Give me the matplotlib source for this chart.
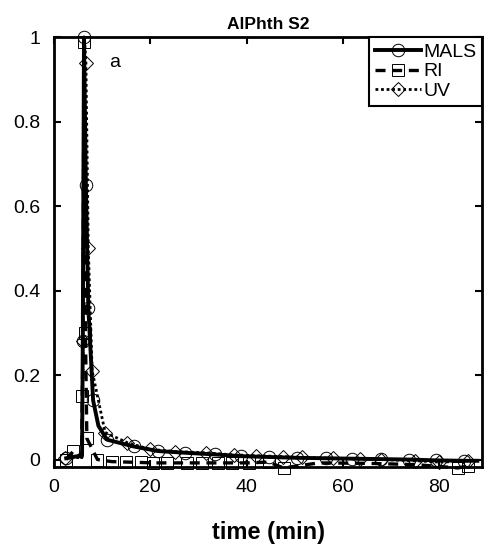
import numpy as np
import matplotlib
matplotlib.use("Agg")
import matplotlib.pyplot as plt

plt.rcParams["font.family"] = ["Liberation Sans", "DejaVu Sans"]

# MALS trace (time in min, normalised signal); markers on the listed indices
mals_x = [2.5, 5.8, 5.95, 6.2, 6.6, 7.1, 8.1, 9.2, 11.0, 16.5, 21.6, 27.3, 33.5, 38.8,
          44.6, 50.6, 56.5, 62.0, 68.0, 73.7, 79.4, 85.2, 88.0]
mals_y = [0.003, 0.01, 0.28, 1.0, 0.65, 0.36, 0.14, 0.08, 0.047, 0.031, 0.020, 0.016,
          0.012, 0.008, 0.006, 0.004, 0.003, 0.002, 0.001, 0.0, -0.002, -0.003, -0.003]
mals_mark = [0, 2, 3, 4, 5, 6, 8, 9, 10, 11, 12, 13, 14, 15, 16, 17, 18, 19, 20, 21]

# RI trace
ri_x = [2.5, 4.0, 5.7, 5.85, 6.0, 6.2, 6.5, 6.8, 9.0, 12.0, 15.0, 18.0, 20.6, 23.4,
        27.7, 30.8, 34.0, 37.0, 40.5, 44.6, 47.7, 55.0, 65.0, 75.0, 84.0, 86.0]
ri_y = [0.0, 0.02, 0.005, 0.15, 0.30, 0.99, 0.30, 0.05, 0.0, -0.005, -0.006, -0.007,
        -0.008, -0.008, -0.008, -0.008, -0.008, -0.008, -0.008, -0.006, -0.020, -0.008,
        -0.009, -0.012, -0.020, -0.015]
ri_mark = [0, 1, 3, 5, 6, 7, 8, 9, 10, 11, 12, 13, 14, 15, 16, 17, 18, 19, 20, 24, 25]

# UV trace
uv_x = [2.3, 5.8, 5.95, 6.3, 6.6, 7.1, 7.9, 10.6, 15.2, 20.0, 25.2, 31.5, 37.3, 42.0,
        47.5, 51.6, 58.0, 63.5, 68.0, 75.0, 80.0, 86.0]
uv_y = [0.003, 0.005, 0.28, 1.0, 0.94, 0.50, 0.21, 0.064, 0.040, 0.024, 0.019, 0.016,
        0.011, 0.009, 0.007, 0.005, 0.003, 0.001, 0.0, -0.003, -0.006, -0.004]
uv_mark = [0, 2, 4, 5, 6, 7, 8, 9, 10, 11, 12, 13, 14, 15, 16, 17, 18, 19, 20, 21]

fs = 14
fig = plt.figure(figsize=(4.88, 5.51), dpi=100)
ax = fig.add_axes([0.111, 0.153, 0.877, 0.779])

mk = dict(mfc="none", mec="black", mew=0.7, ms=9, clip_on=False)
ax.plot(mals_x, mals_y, "-", color="black", lw=2.8, marker="o",
        markevery=mals_mark, label="MALS", **mk)
ax.plot(ri_x, ri_y, color="black", lw=2.4, ls=(0, (3, 2)), marker="s",
        markevery=ri_mark, label="RI", **mk)
ax.plot(uv_x, uv_y, color="black", lw=2.0, ls=(0, (1, 1)), marker="D",
        markevery=uv_mark, label="UV", mfc="none", mec="black", mew=0.7, ms=7,
        clip_on=False)

ax.text(11.5, 0.94, "a", fontsize=fs, va="center")

ax.set_xlim(0, 89)
ax.set_ylim(-0.017, 1.0)
ax.set_xticks([0, 20, 40, 60, 80])
ax.set_yticks([0, 0.2, 0.4, 0.6, 0.8, 1])
ax.set_yticklabels(["0", "0.2", "0.4", "0.6", "0.8", "1"])
ax.tick_params(direction="in", length=5, width=1.5, labelsize=fs,
               top=True, right=True)
ax.tick_params(axis="x", pad=9)
ax.tick_params(axis="y", pad=10)
for s in ax.spines.values():
    s.set_linewidth(2)

ax.set_title("AlPhth S2", fontsize=12.5, weight="bold", pad=6)
ax.set_xlabel("time (min)", fontsize=17, weight="bold", labelpad=18)

leg = ax.legend(loc="upper right", borderaxespad=0, fontsize=fs, handlelength=2.4,
                handletextpad=0.1, labelspacing=0.1, borderpad=0.3, fancybox=False,
                framealpha=1, edgecolor="black")
leg.get_frame().set_linewidth(1.5)

fig.savefig("out.png", dpi=100)
